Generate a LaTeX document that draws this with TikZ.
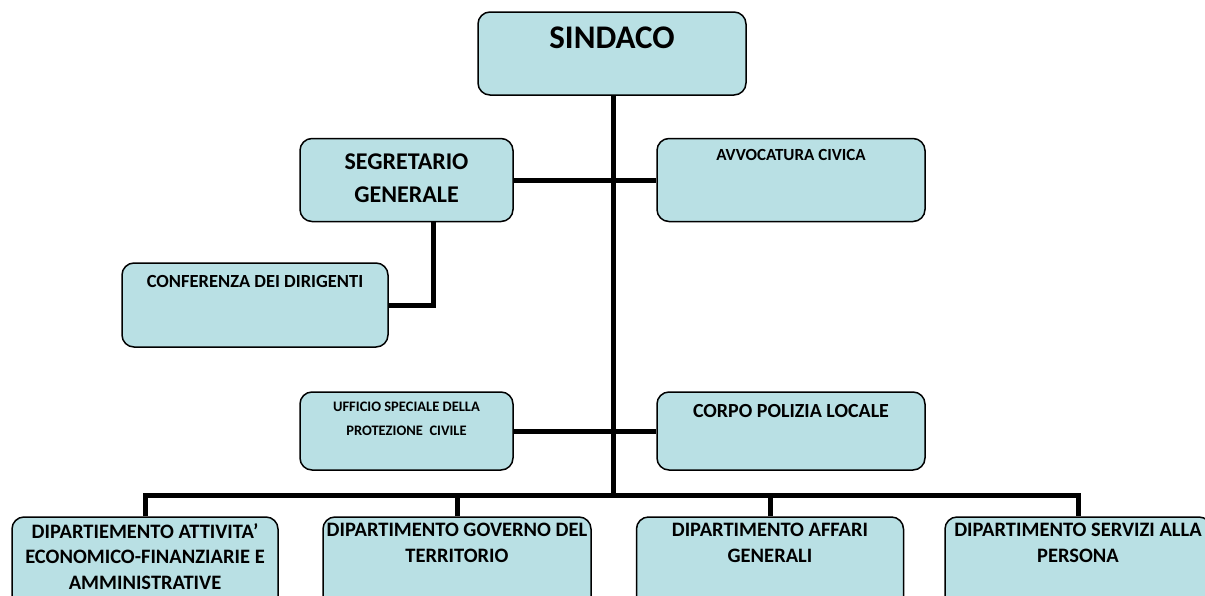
\documentclass[tikz,border=0pt]{standalone}
\usepackage{fontspec}
\setmainfont{Carlito}
\usetikzlibrary{positioning}
\definecolor{boxBlue}{RGB}{185,224,228}

\begin{document}
\begin{tikzpicture}[x=1pt, y=-1pt,
  box/.style={draw, line width=1.5pt, rounded corners=12pt, fill=boxBlue, inner sep=0pt},
  txt/.style={font=\bfseries, align=center, inner sep=0pt, anchor=north},
  link/.style={line width=5pt}]
 	\clip (0,0) rectangle (1205,595);
 	% top levels
 	\node[box, minimum width=268pt, minimum height=83pt] (sind) at (612,53.5) {};
 	\node[box, minimum width=213pt, minimum height=83pt] (segr) at (406.5,180) {};
 	\node[box, minimum width=268pt, minimum height=83pt] (avvo) at (791,180) {};
 	\node[box, minimum width=266pt, minimum height=84pt] (conf) at (255,305) {};
 	\node[box, minimum width=213pt, minimum height=78pt] (uff) at (406.5,431) {};
 	\node[box, minimum width=268pt, minimum height=78pt] (corpo) at (791,431) {};
 	% departments
 	\node[box, minimum width=266pt, minimum height=110pt] (dip1) at (145,572) {};
 	\node[box, minimum width=268pt, minimum height=110pt] (dip2) at (457,572) {};
 	\node[box, minimum width=267pt, minimum height=110pt] (dip3) at (770,572) {};
 	\node[box, minimum width=266pt, minimum height=110pt] (dip4) at (1078,572) {};
 	\node[txt, font=\bfseries\fontsize{33}{38}\selectfont, below=15pt of sind.north] (sind-t) {SINDACO};
 	\node[txt, font=\bfseries\fontsize{24}{33}\selectfont, below=16pt of segr.north] (segr-t) {SEGRETARIO\\GENERALE};
 	\node[txt, font=\bfseries\fontsize{17}{22}\selectfont, below=11.5pt of avvo.north] (avvo-t) {AVVOCATURA CIVICA};
 	\node[txt, font=\bfseries\fontsize{18.5}{22}\selectfont, below=13pt of conf.north] (conf-t) {CONFERENZA DEI DIRIGENTI};
 	\node[txt, font=\bfseries\fontsize{14.5}{24}\selectfont, below=11pt of uff.north] (uff-t) {UFFICIO SPECIALE DELLA\\PROTEZIONE\ \ CIVILE};
 	\node[txt, font=\bfseries\fontsize{20}{24}\selectfont, below=13pt of corpo.north] (corpo-t) {CORPO POLIZIA LOCALE};
 	\node[txt, font=\bfseries\fontsize{20.5}{25.5}\selectfont, below=7pt of dip1.north] (dip1-t) {DIPARTIEMENTO ATTIVITA’\\ECONOMICO-FINANZIARIE E\\AMMINISTRATIVE};
 	\node[txt, font=\bfseries\fontsize{20.5}{25.5}\selectfont, below=7pt of dip2.north] (dip2-t) {DIPARTIMENTO GOVERNO DEL\\TERRITORIO};
 	\node[txt, font=\bfseries\fontsize{20.5}{25.5}\selectfont, below=7pt of dip3.north] (dip3-t) {DIPARTIMENTO AFFARI\\GENERALI};
 	\node[txt, font=\bfseries\fontsize{20.5}{25.5}\selectfont, below=7pt of dip4.north] (dip4-t) {DIPARTIMENTO SERVIZI ALLA\\PERSONA};
 	% connectors
 	\coordinate (bus) at (613,495);
 	\coordinate (knee) at (433,305);
 	\draw[link] (sind.south -| bus) -- (bus);
 	\draw[link] (segr.east) -- (avvo.west);
 	\draw[link] (uff.east) -- (corpo.west);
 	\draw[link] (segr.south -| knee) -- (knee) -- (conf.east);
 	\draw[link] (dip1.north) -- (dip1.north |- bus) -- (dip4.north |- bus) -- (dip4.north);
 	\draw[link] (dip2.north) -- (dip2.north |- bus);
 	\draw[link] (dip3.north) -- (dip3.north |- bus);
\end{tikzpicture}
\end{document}
